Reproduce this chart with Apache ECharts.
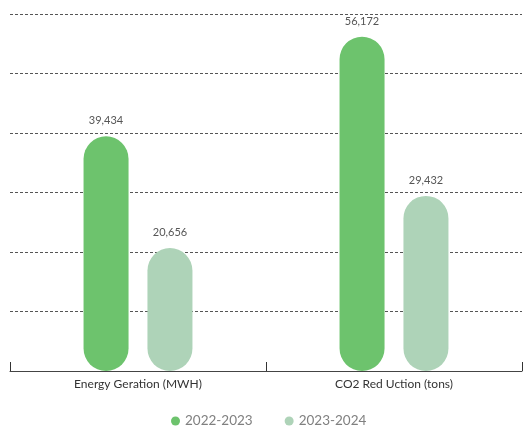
<!DOCTYPE html>
<html>
<head>
<meta charset="utf-8">
<script src="https://cdn.jsdelivr.net/npm/echarts@6/dist/echarts.min.js"></script>
<style>
  html, body { margin: 0; padding: 0; background: #fff; }
  #chart { width: 523px; height: 427px; }
</style>
</head>
<body>
<div id="chart"></div>
<script>
// Impact metrics by reporting year
const categories = ['Energy Geration (MWH)', 'CO2 Red Uction (tons)'];
const seriesNames = ['2022-2023', '2023-2024'];
const values2022 = [39434, 56172];
const values2023 = [20656, 29432];
const colors = ['#6dc36d', '#aed3b8'];

const chart = echarts.init(document.getElementById('chart'), null, { renderer: 'canvas' });

function barSeries(name, data, color) {
  return {
    name: name,
    type: 'bar',
    data: data,
    barWidth: 45,
    barGap: '42%',
    itemStyle: { color: color, borderRadius: 22.5 },
    label: {
      show: true,
      position: 'top',
      distance: 10,
      color: '#555',
      fontSize: 11,
      fontFamily: 'Lato',
      formatter: p => p.value.toLocaleString('en-US')
    }
  };
}

chart.setOption({
  animation: false,
  grid: { left: 10, right: 1, top: 14, bottom: 56, containLabel: false },
  legend: {
    data: seriesNames,
    top: 409,
    left: 166,
    icon: 'circle',
    itemWidth: 9,
    itemHeight: 9,
    itemGap: 32,
    textStyle: { color: '#808080', fontSize: 13.5, fontFamily: 'Lato' }
  },
  xAxis: {
    type: 'category',
    data: categories,
    axisLine: { show: true, lineStyle: { color: '#444', width: 1 } },
    axisTick: { show: true, inside: true, length: 9, lineStyle: { color: '#333' } },
    axisLabel: { color: '#333', fontSize: 12, fontFamily: 'Lato', margin: 7 }
  },
  yAxis: {
    type: 'value',
    min: 0,
    max: 60000,
    interval: 10000,
    axisLabel: { show: false },
    axisLine: { show: false },
    axisTick: { show: false },
    splitLine: { show: true, lineStyle: { color: '#555', type: [3, 2], width: 1 } }
  },
  series: [
    barSeries(seriesNames[0], values2022, colors[0]),
    barSeries(seriesNames[1], values2023, colors[1])
  ]
});
</script>
</body>
</html>
